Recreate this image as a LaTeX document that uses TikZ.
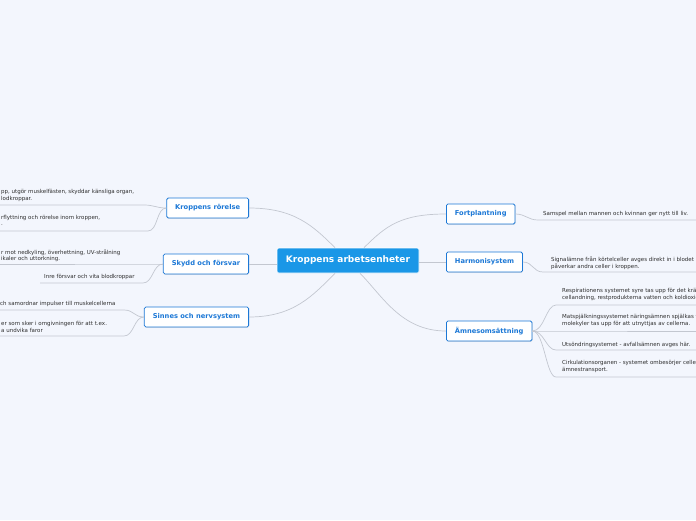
\documentclass[tikz,border=0pt]{standalone}
\usepackage{fontspec}
\setmainfont{DejaVu Sans}
\usetikzlibrary{shadows}
\definecolor{bgcol}{HTML}{F3F6FD}
\definecolor{hubblue}{HTML}{1A97E7}
\definecolor{topicblue}{HTML}{1C78D6}
\definecolor{wirecol}{HTML}{C3C7D0}
\definecolor{leaftext}{HTML}{2E2E2E}
\tikzset{
  hub/.style={fill=hubblue, draw=white, line width=0.6pt, rounded corners=1.5pt,
    text=white, font=\bfseries\fontsize{9}{10}\selectfont,
    minimum height=25, minimum width=142},
  topic/.style={fill=white, draw=topicblue, line width=0.8pt, rounded corners=1.5pt,
    text=topicblue, font=\bfseries\fontsize{6.7}{8}\selectfont,
    minimum height=20, inner xsep=8.5,
    drop shadow={shadow xshift=0.5pt, shadow yshift=-0.8pt, opacity=0.2}},
  leaf/.style={font=\fontsize{5.5}{6.5}\selectfont, text=leaftext, inner sep=0,
    align=left, anchor=north west},
  wire/.style={draw=wirecol, line width=0.7pt}
}
\begin{document}
\begin{tikzpicture}[x=1pt, y=-1pt]
  % page and background
  \fill[bgcol] (0,0) rectangle (696,520);
  \useasboundingbox (0,0) rectangle (696,520);
  \clip (0,0) rectangle (696,520);
  % central topic
  \node[hub] (hub) at (348,260.5) {Kroppens arbetsenheter};
  \coordinate (hubNL) at ([xshift=-13pt]hub.north);
  \coordinate (hubNR) at ([xshift=16pt]hub.north);
  \coordinate (hubSL) at ([xshift=-13pt]hub.south);
  \coordinate (hubSR) at ([xshift=12pt]hub.south);
  % left topics
  \node[topic, anchor=east] (ror) at (249,208) {Kroppens rörelse};
  \node[topic, anchor=east] (sky) at (249,264) {Skydd och försvar};
  \node[topic, anchor=east] (sin) at (249,317) {Sinnes och nervsystem};
  % right topics
  \node[topic, anchor=west] (fort) at (446,214) {Fortplantning};
  \node[topic, anchor=west] (harm) at (446,262) {Harmonisystem};
  \node[topic, anchor=west] (amne) at (446,331) {Ämnesomsättning};
  % hub to topics
  \draw[wire] (ror.east) .. controls +(45,0) and +(-22,-22) .. (hubNL);
  \draw[wire] (sky.east) -- (sky.east -| hub.west);
  \draw[wire] (sin.east) .. controls +(45,0) and +(-22,22) .. (hubSL);
  \draw[wire] (fort.west) .. controls +(-45,0) and +(22,-22) .. (hubNR);
  \draw[wire] (harm.west) -- (harm.west -| hub.east);
  \draw[wire] (amne.west) .. controls +(-45,0) and +(22,22) .. (hubSR);
  % leaves of Kroppens rörelse
  \node[leaf] (l1) at (1,189.5) {pp, utgör muskelfästen, skyddar känsliga organ,\\lodkroppar.};
  \node[leaf] (l2) at (1,215) {rflyttning och rörelse inom kroppen,\\.};
  \coordinate (l1e) at (144,205);
  \coordinate (l2e) at (148,231);
  \draw[wire] (ror.west) .. controls +(-10,0) and +(10,0) .. (l1e) -- (-2,205);
  \draw[wire] (ror.west) .. controls +(-10,0) and +(10,0) .. (l2e) -- (-2,231);
  % leaves of Skydd och försvar
  \node[leaf] (l3) at (1,249) {r mot nedkyling, överhettning, UV-strålning\\ikaler och uttorkning.};
  \node[leaf] (l4) at (44,274.5) {Inre försvar och vita blodkroppar};
  \coordinate (l3e) at (150,264);
  \coordinate (l4e) at (143,283);
  \draw[wire] (sky.west) .. controls +(-8,0) and +(8,0) .. (l3e) -- (-2,264);
  \draw[wire] (sky.west) .. controls +(-10,0) and +(10,0) .. (l4e) -- (40,283);
  % leaves of Sinnes och nervsystem
  \node[leaf] (l5) at (0,301.5) {ch samordnar impulser till muskelcellerna};
  \node[leaf] (l6) at (1,321.5) {er som sker i omgivningen för att t.ex.\\a undvika faror};
  \coordinate (l5e) at (124,310);
  \coordinate (l6e) at (124,336);
  \draw[wire] (sin.west) .. controls +(-10,0) and +(10,0) .. (l5e) -- (-2,310);
  \draw[wire] (sin.west) .. controls +(-10,0) and +(10,0) .. (l6e) -- (-2,336);
  % leaf of Fortplantning
  \node[leaf] (r1) at (543,211.5) {Samspel mellan mannen och kvinnan ger nytt till liv.};
  \coordinate (r1s) at (538,220);
  \draw[wire] (fort.east) .. controls +(10,0) and +(-10,0) .. (r1s) -- (700,220);
  % leaf of Harmonisystem
  \node[leaf] (r2) at (551,256.5) {Signalämne från körtelceller avges direkt in i blodet\\påverkar andra celler i kroppen.};
  \coordinate (r2s) at (543,272);
  \draw[wire] (harm.east) .. controls +(10,0) and +(-10,0) .. (r2s) -- (700,272);
  % leaves of Ämnesomsättning
  \node[leaf] (r3) at (562,288.5) {Respirationens systemet syre tas upp för det kräver\\cellandning, restprodukterna vatten och koldioxid};
  \node[leaf] (r4) at (562,314.5) {Matspjälkningssystemet näringsämnen spjälkas till\\molekyler tas upp för att utnyttjas av cellerna.};
  \node[leaf] (r5) at (562,342) {Utsöndringsystemet - avfallsämnen avges här.};
  \node[leaf] (r6) at (562,360.5) {Cirkulationsorganen - systemet ombesörjer cellernas\\ämnestransport.};
  \coordinate (r3s) at (556,305);
  \coordinate (r4s) at (556,331);
  \coordinate (r5s) at (556,350);
  \coordinate (r6s) at (556,377);
  \draw[wire] (amne.east) .. controls +(12,0) and +(-10,0) .. (r3s) -- (700,305);
  \draw[wire] (amne.east) .. controls +(12,0) and +(-10,0) .. (r4s) -- (700,331);
  \draw[wire] (amne.east) .. controls +(12,0) and +(-10,0) .. (r5s) -- (700,350);
  \draw[wire] (amne.east) .. controls +(12,0) and +(-10,0) .. (r6s) -- (700,377);
\end{tikzpicture}
\end{document}
